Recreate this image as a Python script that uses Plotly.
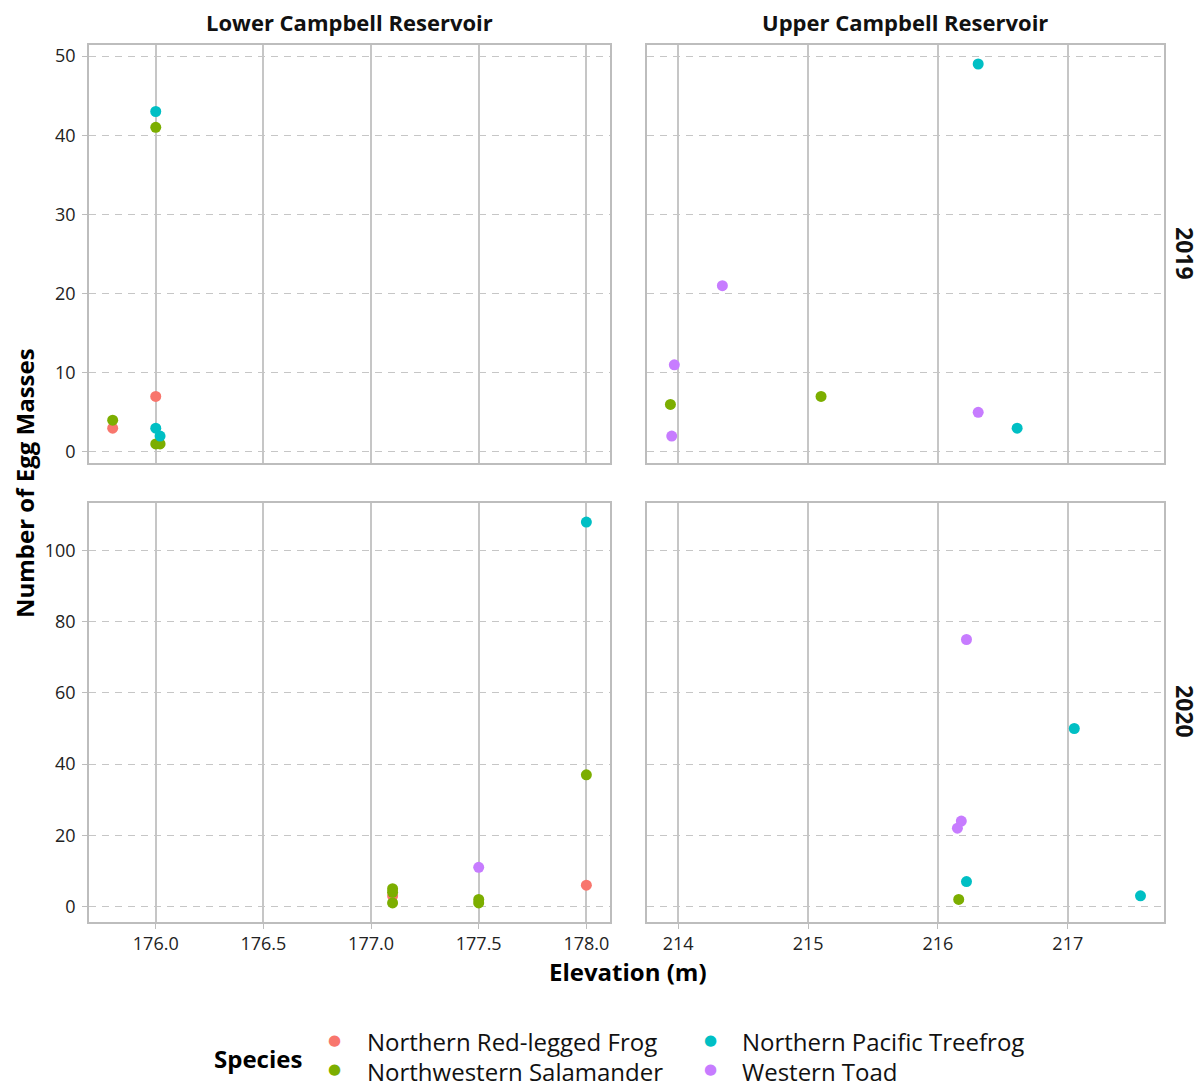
import plotly.graph_objects as go
from plotly.subplots import make_subplots

# Egg-mass survey data: (reservoir, year) -> species -> elevations and counts
species_names = ["Northern Red-legged Frog", "Northwestern Salamander",
                 "Northern Pacific Treefrog", "Western Toad"]
species_colors = ["#F8766D", "#7CAE00", "#00BFC4", "#C77CFF"]

reservoirs = ["Lower Campbell Reservoir", "Upper Campbell Reservoir"]
years = ["2019", "2020"]

# Lower Campbell, 2019
lower_2019_frog_elev = [175.80, 176.00]
lower_2019_frog_count = [3, 7]
lower_2019_sal_elev = [175.80, 176.00, 176.00, 176.02]
lower_2019_sal_count = [4, 41, 1, 1]
lower_2019_tree_elev = [176.00, 176.00, 176.02]
lower_2019_tree_count = [43, 3, 2]
lower_2019_toad_elev = []
lower_2019_toad_count = []

# Upper Campbell, 2019
upper_2019_frog_elev = []
upper_2019_frog_count = []
upper_2019_sal_elev = [213.94, 215.10]
upper_2019_sal_count = [6, 7]
upper_2019_tree_elev = [216.31, 216.61]
upper_2019_tree_count = [49, 3]
upper_2019_toad_elev = [214.34, 213.97, 213.95, 216.31]
upper_2019_toad_count = [21, 11, 2, 5]

# Lower Campbell, 2020
lower_2020_frog_elev = [177.10, 178.00]
lower_2020_frog_count = [3, 6]
lower_2020_sal_elev = [177.10, 177.10, 177.10, 177.50, 177.50, 178.00]
lower_2020_sal_count = [5, 4, 1, 2, 1, 37]
lower_2020_tree_elev = [178.00]
lower_2020_tree_count = [108]
lower_2020_toad_elev = [177.50]
lower_2020_toad_count = [11]

# Upper Campbell, 2020
upper_2020_frog_elev = []
upper_2020_frog_count = []
upper_2020_sal_elev = [216.16]
upper_2020_sal_count = [2]
upper_2020_tree_elev = [217.05, 216.22, 217.56]
upper_2020_tree_count = [50, 7, 3]
upper_2020_toad_elev = [216.22, 216.18, 216.15]
upper_2020_toad_count = [75, 24, 22]

panels = {
    (1, 1): [(lower_2019_frog_elev, lower_2019_frog_count), (lower_2019_sal_elev, lower_2019_sal_count),
             (lower_2019_tree_elev, lower_2019_tree_count), (lower_2019_toad_elev, lower_2019_toad_count)],
    (1, 2): [(upper_2019_frog_elev, upper_2019_frog_count), (upper_2019_sal_elev, upper_2019_sal_count),
             (upper_2019_tree_elev, upper_2019_tree_count), (upper_2019_toad_elev, upper_2019_toad_count)],
    (2, 1): [(lower_2020_frog_elev, lower_2020_frog_count), (lower_2020_sal_elev, lower_2020_sal_count),
             (lower_2020_tree_elev, lower_2020_tree_count), (lower_2020_toad_elev, lower_2020_toad_count)],
    (2, 2): [(upper_2020_frog_elev, upper_2020_frog_count), (upper_2020_sal_elev, upper_2020_sal_count),
             (upper_2020_tree_elev, upper_2020_tree_count), (upper_2020_toad_elev, upper_2020_toad_count)],
}

FONT = "Open Sans"
GRID = "#C6C6C6"
FRAME = "#BDBDBD"

fig = make_subplots(rows=2, cols=2, shared_xaxes="columns", shared_yaxes="rows")

for (r, c), series in panels.items():
    for i, (xs, ys) in enumerate(series):
        fig.add_trace(
            go.Scatter(
                x=xs if xs else [None], y=ys if ys else [None],
                mode="markers", name=species_names[i],
                marker=dict(color=species_colors[i], size=11),
                showlegend=False,
            ),
            row=r, col=c,
        )

# Panel domains (free x per column, free y per row)
col_dom = [[0.0, 0.4847], [0.519, 1.0]]
row_dom = {1: [0.5234, 1.0], 2: [0.0, 0.4778]}

axis_common = dict(showline=True, mirror=True, linecolor=FRAME, linewidth=1.5,
                   zeroline=False, ticklen=5, tickcolor=FRAME, tickwidth=1.2,
                   tickfont=dict(family=FONT, size=18, color="#222222"))

def range_of(vals, pad=0.05):
    lo, hi = min(vals), max(vals)
    span = hi - lo
    return [lo - span * pad, hi + span * pad]

lower_x = lower_2019_frog_elev + lower_2019_sal_elev + lower_2019_tree_elev + \
    lower_2020_frog_elev + lower_2020_sal_elev + lower_2020_tree_elev + lower_2020_toad_elev
upper_x = upper_2019_sal_elev + upper_2019_tree_elev + upper_2019_toad_elev + \
    upper_2020_sal_elev + upper_2020_tree_elev + upper_2020_toad_elev
y2019 = lower_2019_frog_count + lower_2019_sal_count + lower_2019_tree_count + \
    upper_2019_sal_count + upper_2019_tree_count + upper_2019_toad_count
y2020 = lower_2020_frog_count + lower_2020_sal_count + lower_2020_tree_count + lower_2020_toad_count + \
    upper_2020_sal_count + upper_2020_tree_count + upper_2020_toad_count

for r in (1, 2):
    for c in (1, 2):
        xr = range_of(lower_x) if c == 1 else range_of(upper_x)
        yr = range_of(y2019) if r == 1 else range_of(y2020)
        fig.update_xaxes(
            domain=col_dom[c - 1], range=xr, showgrid=True, gridcolor=GRID, gridwidth=1.5,
            dtick=0.5 if c == 1 else 1, tick0=176 if c == 1 else 214,
            tickformat=".1f" if c == 1 else "d",
            showticklabels=(r == 2), ticks="outside" if r == 2 else "",
            ticklabelstandoff=0,
            row=r, col=c, **axis_common,
        )
        fig.update_yaxes(
            domain=row_dom[r], range=yr, showgrid=True, gridcolor=GRID, gridwidth=1.2,
            griddash="7px,6px", dtick=10 if r == 1 else 20,
            showticklabels=(c == 1), ticks="outside" if c == 1 else "",
            ticklabelstandoff=3,
            row=r, col=c, **axis_common,
        )

def note(text, x, y, size, angle=0, color="#111111", xanchor="center", family=FONT):
    return dict(text=text, x=x, y=y, xref="paper", yref="paper", xanchor=xanchor,
                yanchor="middle", textangle=angle, showarrow=False,
                font=dict(family=family, size=size, color=color))

annotations = [
    note("<b>Lower Campbell Reservoir</b>", 0.242, 1.026, 22),
    note("<b>Upper Campbell Reservoir</b>", 0.759, 1.026, 22),
    note("<b>2019</b>", 1.0195, 0.7617, 23, angle=90),
    note("<b>2020</b>", 1.0195, 0.2395, 23, angle=90),
    note("<b>Number of Egg Masses</b>", -0.0595, 0.5006, 24, angle=-90, color="#000000"),
    note("<b>Elevation (m)</b>", 0.5014, -0.0560, 24, color="#000000"),
    note("<b>Species</b>", 0.157, -0.1553, 24, color="#000000"),
]

# Species key: two columns of two entries each, below the panels
key_marker_x = [0.2288, 0.2288, 0.5777, 0.5777]
key_text_x = [0.2567, 0.2567, 0.6056, 0.6056]
key_row_y = [-0.1365, -0.1700, -0.1365, -0.1700]
for i, name in enumerate(species_names):
    annotations.append(note("\u25CF", key_marker_x[i], key_row_y[i] + 0.002, 15,
                            color=species_colors[i], family="DejaVu Sans"))
    annotations.append(note(name, key_text_x[i], key_row_y[i], 24,
                            color="#111111", xanchor="left"))

fig.update_layout(
    width=1200, height=1087,
    margin=dict(l=89, r=36, t=45, b=165),
    plot_bgcolor="white", paper_bgcolor="white",
    showlegend=False,
    annotations=annotations,
)

fig.write_html("out.html")
